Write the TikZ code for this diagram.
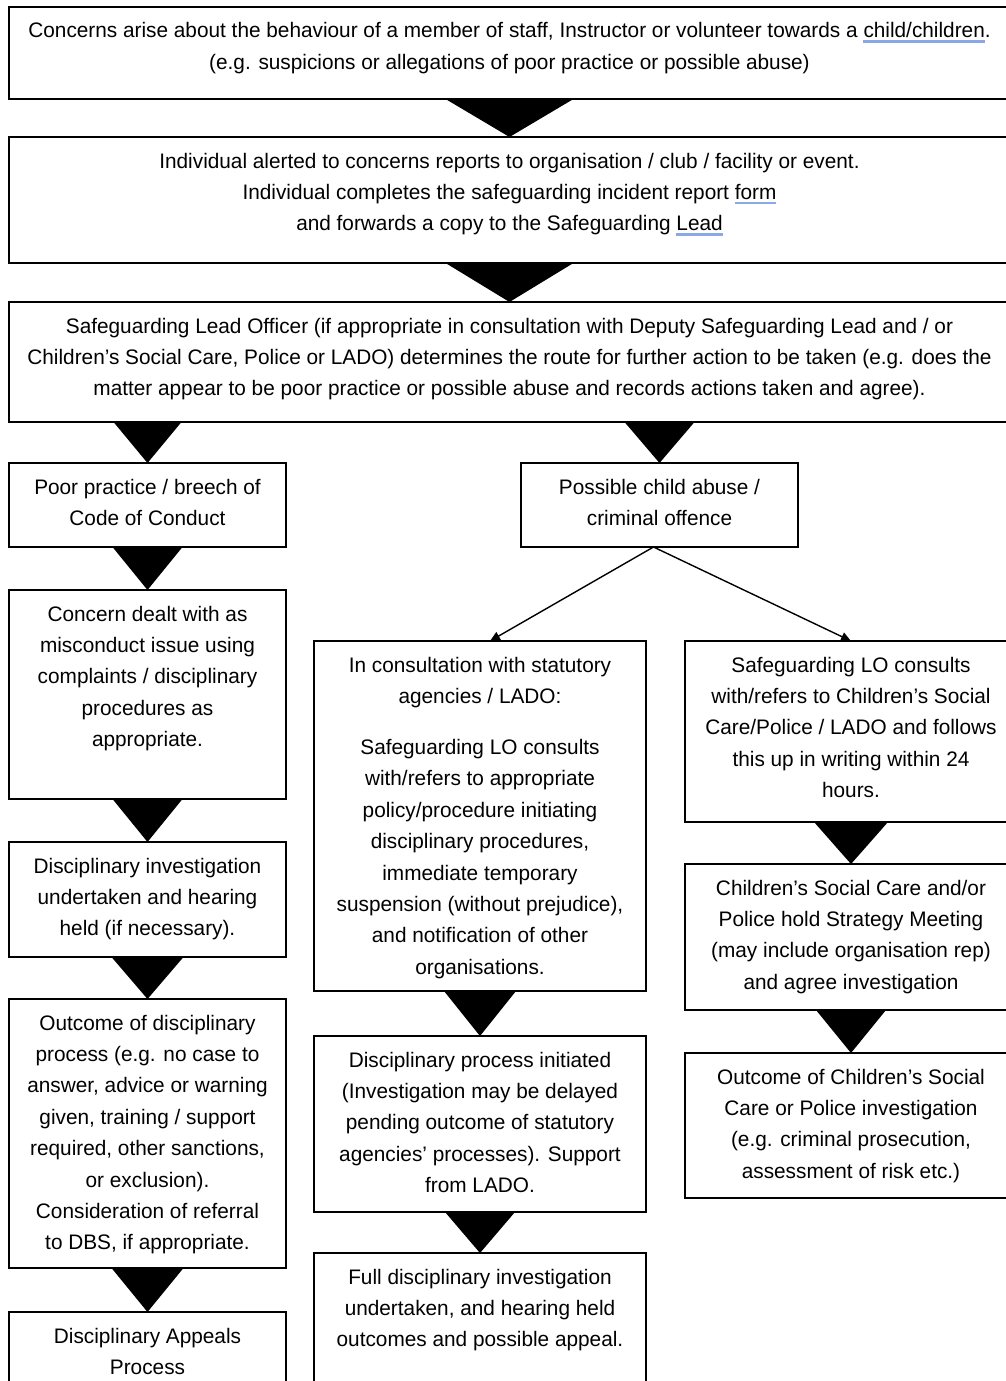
\documentclass[tikz,border=0pt]{standalone}
\usepackage{fontspec}
\setmainfont{Liberation Sans}[FakeStretch=0.99]
\usetikzlibrary{arrows.meta,calc}
\definecolor{spellblue}{HTML}{8AA8E6}
\newsavebox\splbox
\newcommand\spl[1]{\sbox\splbox{#1}\rlap{\textcolor{spellblue}{\rule[-5pt]{\wd\splbox}{2.5pt}}}\usebox\splbox}
\newcommand\bx[3]{\parbox[c][#2][t]{#1}{\centering\fontsize{21pt}{31.4pt}\selectfont\rule{0pt}{31pt}#3}}
\tikzset{
  boxnode/.style={draw=black, line width=1.3pt, inner sep=0pt, outer sep=0pt, anchor=north west, fill=white},
  bigtri/.style={fill=black},
  thinarrow/.style={line width=1.4pt, -{Triangle[length=10pt,width=9pt]}}
}
\begin{document}
\begin{tikzpicture}[x=1pt,y=-1pt]
\useasboundingbox (0,0) rectangle (1006,1381);
\clip (0,0) rectangle (1006,1381);
\fill[white] (0,0) rectangle (1006,1381);

\node[boxnode] (b1) at (9,7) {\bx{1001pt}{92pt}{Concerns arise about the behaviour of a member of staff, Instructor or volunteer towards a \spl{child/children}.\\(e.g. suspicions or allegations of poor practice or possible abuse)}};
\node[boxnode] (b2) at (9,137) {\bx{1001pt}{126pt}{Individual alerted to concerns reports to organisation / club / facility or event.\\Individual completes the safeguarding incident report \spl{form}\\and forwards a copy to the Safeguarding \spl{Lead}}};
\node[boxnode] (b3) at (9,302) {\bx{1001pt}{120pt}{Safeguarding Lead Officer (if appropriate in consultation with Deputy Safeguarding Lead and / or\\Children’s Social Care, Police or LADO) determines the route for further action to be taken (e.g. does the\\matter appear to be poor practice or possible abuse and records actions taken and agree).}};

\node[boxnode] (pp) at (9,463) {\bx{277pt}{84pt}{Poor practice / breech of\\Code of Conduct}};
\node[boxnode] (pca) at (521,463) {\bx{277pt}{84pt}{Possible child abuse /\\criminal offence}};

\node[boxnode] (cd) at (9,590) {\bx{277pt}{209pt}{Concern dealt with as\\misconduct issue using\\complaints / disciplinary\\procedures as\\appropriate.}};
\node[boxnode] (di) at (9,842) {\bx{277pt}{115pt}{Disciplinary investigation\\undertaken and hearing\\held (if necessary).}};
\node[boxnode] (oc) at (9,999) {\bx{277pt}{269pt}{Outcome of disciplinary\\process (e.g. no case to\\answer, advice or warning\\given, training / support\\required, other sanctions,\\or exclusion).\\Consideration of referral\\to DBS, if appropriate.}};
\node[boxnode] (ap) at (9,1312) {\bx{277pt}{100pt}{Disciplinary Appeals\\Process}};

\node[boxnode] (mc) at (314,641) {\bx{332pt}{350pt}{In consultation with statutory\\agencies / LADO:\\[19.6pt]Safeguarding LO consults\\with/refers to appropriate\\policy/procedure initiating\\disciplinary procedures,\\immediate temporary\\suspension (without prejudice),\\and notification of other\\organisations.}};
\node[boxnode] (md) at (314,1036) {\bx{332pt}{176pt}{Disciplinary process initiated\\(Investigation may be delayed\\pending outcome of statutory\\agencies’ processes). Support\\from LADO.}};
\node[boxnode] (mf) at (314,1253) {\bx{332pt}{150pt}{Full disciplinary investigation\\undertaken, and hearing held\\outcomes and possible appeal.}};

\node[boxnode] (rc) at (685,641) {\bx{332pt}{181pt}{Safeguarding LO consults\\with/refers to Children’s Social\\Care/Police / LADO and follows\\this up in writing within 24\\hours.}};
\node[boxnode] (rs) at (685,864) {\bx{332pt}{146pt}{Children’s Social Care and/or\\Police hold Strategy Meeting\\(may include organisation rep)\\and agree investigation}};
\node[boxnode] (ro) at (685,1053) {\bx{332pt}{145pt}{Outcome of Children’s Social\\Care or Police investigation\\(e.g. criminal prosecution,\\assessment of risk etc.)}};

% big triangle connectors
\fill[bigtri] ($(b2.north |- b1.south)+(-64,0)$) -- ++(128,0) -- (b2.north) -- cycle;
\fill[bigtri] ($(b3.north |- b2.south)+(-64,0)$) -- ++(128,0) -- (b3.north) -- cycle;
\fill[bigtri] ($(pp.north |- b3.south)+(-34,0)$) -- ++(68,0) -- (pp.north) -- cycle;
\fill[bigtri] ($(pca.north |- b3.south)+(-35,0)$) -- ++(70,0) -- (pca.north) -- cycle;
\fill[bigtri] ($(pp.south)+(-35,0)$) -- ++(70,0) -- (cd.north) -- cycle;
\fill[bigtri] ($(cd.south)+(-35,0)$) -- ++(70,0) -- (di.north) -- cycle;
\fill[bigtri] ($(di.south)+(-36,0)$) -- ++(72,0) -- (oc.north) -- cycle;
\fill[bigtri] ($(oc.south)+(-36,0)$) -- ++(72,0) -- (ap.north) -- cycle;
\fill[bigtri] ($(mc.south)+(-36,0)$) -- ++(72,0) -- (md.north) -- cycle;
\fill[bigtri] ($(md.south)+(-35,0)$) -- ++(70,0) -- (mf.north) -- cycle;
\fill[bigtri] ($(rc.south)+(-37,0)$) -- ++(74,0) -- (rs.north) -- cycle;
\fill[bigtri] ($(rs.south)+(-35,0)$) -- ++(70,0) -- (ro.north) -- cycle;

% thin arrows
\coordinate (split) at ($(pca.south)+(-6,0)$);
\coordinate (mcin) at ($(mc.north)+(10,0)$);
\draw[thinarrow] (split) -- (mcin);
\draw[thinarrow] (split) -- (rc.north);
\end{tikzpicture}
\end{document}
